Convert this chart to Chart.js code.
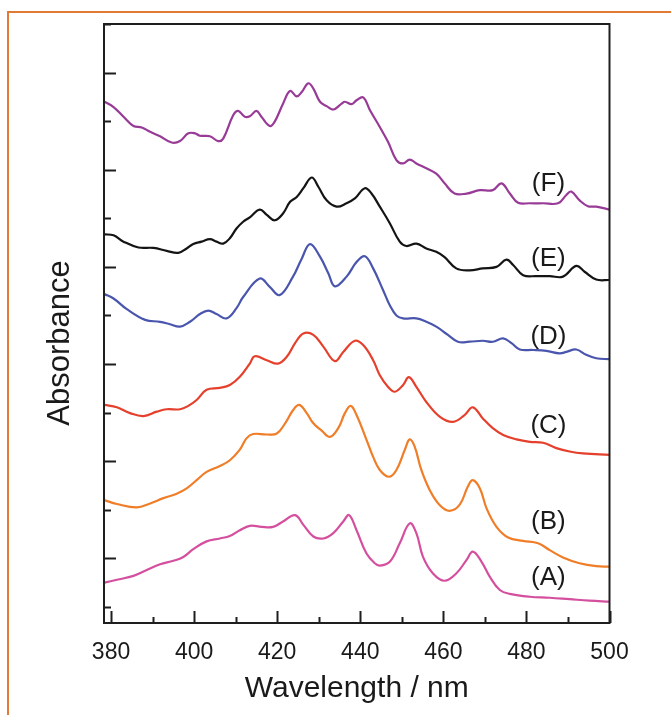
<!DOCTYPE html>
<html>
<head>
<meta charset="utf-8">
<script src="https://cdn.jsdelivr.net/npm/chart.js@4/dist/chart.umd.min.js"></script>
<style>
  html, body { margin: 0; padding: 0; background: #ffffff; }
  #wrap { position: relative; width: 671px; height: 715px; overflow: hidden; background: #ffffff; }
  #frame { position: absolute; left: 7px; top: 11px; width: 700px; height: 760px;
           border-top: 2px solid #e07a36; border-left: 2px solid #e07a36; }
  #c { position: absolute; left: 0; top: 0; }
</style>
</head>
<body>
<div id="wrap">
  <div id="frame"></div>
  <canvas id="c" width="671" height="715"></canvas>
</div>
<script>
// Spectra (wavelength in nm, absorbance in offset arbitrary units)
const waveA = [378.4,381.4,385.4,388.6,391.8,395.0,397.4,399.8,403.0,406.2,408.6,411.0,413.4,416.2,419.0,421.4,424.3,426.3,428.7,431.1,433.5,435.9,437.3,439.1,441.5,443.5,444.7,447.1,449.5,451.9,453.5,455.1,457.5,460.3,463.1,465.6,467.1,469.2,471.2,473.6,476.0,480.8,485.6,490.4,495.2,500.0];
const absA  = [0.50,0.56,0.64,0.76,0.88,0.95,1.03,1.19,1.35,1.41,1.46,1.58,1.67,1.65,1.65,1.76,1.89,1.69,1.45,1.41,1.52,1.76,1.89,1.58,1.10,0.90,0.85,0.93,1.31,1.72,1.52,1.03,0.69,0.54,0.69,0.97,1.14,0.93,0.62,0.35,0.27,0.21,0.19,0.16,0.13,0.11];

const waveB = [378.4,381.4,386.2,389.4,392.6,395.8,398.2,400.6,403.0,406.2,408.6,411.0,412.6,414.2,417.5,419.9,421.9,423.8,425.3,427.1,428.7,430.7,432.7,434.7,436.3,437.7,439.1,441.5,443.1,444.7,446.9,448.7,450.7,451.9,453.1,454.7,456.7,459.1,461.5,463.9,465.9,467.1,468.8,470.4,472.8,475.6,479.2,482.8,485.6,488.8,492.8,496.8,500.0];
const absB  = [2.20,2.12,2.05,2.13,2.24,2.33,2.44,2.61,2.78,2.90,3.02,3.24,3.47,3.56,3.55,3.57,3.78,4.05,4.16,3.99,3.78,3.63,3.50,3.68,3.99,4.14,3.95,3.44,3.09,2.82,2.68,2.82,3.23,3.45,3.30,2.82,2.41,2.10,1.98,2.10,2.48,2.61,2.44,2.03,1.65,1.43,1.36,1.31,1.17,1.02,0.90,0.84,0.83];

const waveC = [378.4,381.4,384.6,387.8,391.0,393.4,396.6,398.6,400.6,403.0,406.2,408.6,411.0,413.4,414.6,417.5,420.2,422.3,424.3,426.3,428.7,431.1,433.9,435.9,438.7,440.7,443.1,444.7,446.7,448.3,450.3,451.7,453.5,455.9,459.1,462.3,465.1,467.1,469.5,471.9,474.4,477.6,480.8,484.0,487.2,490.4,493.6,500.0];
const absC  = [4.16,4.11,3.99,3.93,4.02,4.07,4.07,4.14,4.26,4.47,4.51,4.57,4.74,5.01,5.16,5.08,5.01,5.15,5.43,5.63,5.60,5.36,5.06,5.25,5.48,5.39,5.08,4.77,4.53,4.43,4.57,4.73,4.53,4.22,3.92,3.81,3.95,4.11,3.88,3.68,3.54,3.45,3.40,3.38,3.27,3.20,3.16,3.13];

const waveD = [378.4,380.6,383.8,388.2,391.8,394.2,396.6,399.0,401.4,403.4,405.4,407.8,410.2,411.8,415.8,418.2,420.6,423.8,425.9,427.9,430.3,432.3,433.9,436.7,439.1,441.1,443.1,445.5,447.1,448.7,450.3,453.5,455.9,458.3,461.1,463.5,466.3,469.5,471.9,474.4,476.4,478.4,481.6,484.8,488.0,489.6,492.0,494.4,496.8,500.0];
const absD  = [6.44,6.35,6.13,5.91,5.87,5.82,5.77,5.87,6.03,6.10,6.03,5.94,6.15,6.38,6.76,6.59,6.42,6.80,7.17,7.47,7.21,6.87,6.60,6.80,7.10,7.22,6.97,6.52,6.21,6.00,5.94,5.94,5.87,5.77,5.60,5.46,5.46,5.48,5.46,5.53,5.43,5.30,5.29,5.27,5.22,5.25,5.30,5.19,5.12,5.10];

const waveE = [378.4,380.6,383.0,386.6,390.2,393.4,396.2,398.2,399.8,401.8,403.8,405.4,407.0,408.6,410.2,411.8,413.4,415.8,417.5,419.4,421.4,423.1,424.7,426.3,428.3,429.9,431.9,434.3,436.7,438.7,441.1,442.7,444.7,447.1,449.5,451.1,453.5,455.9,458.3,460.3,463.1,466.3,469.5,472.8,475.2,476.8,479.2,482.4,485.6,488.8,492.0,494.0,496.8,500.0];
const absE  = [7.67,7.65,7.52,7.40,7.39,7.33,7.29,7.38,7.47,7.52,7.57,7.52,7.48,7.59,7.79,7.93,8.02,8.18,8.07,7.96,8.10,8.34,8.44,8.62,8.84,8.65,8.37,8.24,8.31,8.41,8.62,8.51,8.24,7.90,7.52,7.43,7.48,7.38,7.31,7.20,6.97,6.93,6.97,7.00,7.15,7.04,6.83,6.81,6.81,6.80,7.02,6.90,6.74,6.73];

const waveF = [378.4,380.6,383.0,385.4,387.4,389.4,391.8,394.6,396.6,398.6,400.2,401.4,403.8,405.8,407.0,409.4,410.6,412.2,413.4,415.0,416.2,418.2,419.4,421.4,423.1,424.7,425.9,427.5,428.7,430.3,431.9,433.5,435.5,436.3,437.9,439.1,440.7,442.3,444.7,446.7,448.7,450.3,451.9,453.5,455.9,458.3,460.3,462.7,465.6,468.8,471.9,474.0,476.0,478.0,480.8,484.0,487.6,489.6,490.8,492.8,494.8,496.8,500.0];
const absF  = [10.40,10.29,10.09,9.90,9.87,9.78,9.69,9.56,9.59,9.75,9.75,9.70,9.69,9.59,9.64,10.12,10.21,10.09,10.10,10.21,10.09,9.90,9.99,10.36,10.62,10.51,10.60,10.78,10.67,10.40,10.31,10.24,10.36,10.40,10.35,10.43,10.49,10.23,9.88,9.57,9.20,9.13,9.21,9.13,9.03,8.92,8.72,8.51,8.51,8.58,8.58,8.72,8.51,8.32,8.31,8.31,8.31,8.48,8.55,8.37,8.25,8.24,8.18];

// Axis ticks
const xTicks = [380,390,400,410,420,430,440,450,460,470,480,490,500];
const xLabelled = [380,400,420,440,460,480,500];
const yTicks = [0,1,2,3,4,5,6,7,8,9,10,11,12];

// Curve tags drawn beside each spectrum
const tagText = ['(A)','(B)','(C)','(D)','(E)','(F)'];
const tagWave = [485.3,485.3,485.3,485.3,485.3,485.3];
const tagAbs  = [0.60,1.75,3.72,5.56,7.16,8.70];

const FONT = "'Liberation Sans', Arial, Helvetica, sans-serif";

function pairs(xs, ys) { return xs.map((x, i) => ({ x: x, y: ys[i] })); }

const series = [
  { w: waveA, a: absA, color: '#d44f9e' },
  { w: waveB, a: absB, color: '#f07d28' },
  { w: waveC, a: absC, color: '#e5402c' },
  { w: waveD, a: absD, color: '#4a56ad' },
  { w: waveE, a: absE, color: '#141414' },
  { w: waveF, a: absF, color: '#983b97' }
];

// Closed frame plus inward tick marks on the bottom and left axes
const framePlugin = {
  id: 'frameTicks',
  afterDatasetsDraw(chart) {
    const { ctx, chartArea: ca, scales } = chart;
    const xs = scales.x, ys = scales.y;
    ctx.save();
    ctx.strokeStyle = '#1e1e1e';
    ctx.lineWidth = 2;
    ctx.beginPath();
    xTicks.forEach(v => {
      const px = Math.round(xs.getPixelForValue(v)) + 0.5;
      const len = xLabelled.includes(v) ? 12 : 6;
      ctx.moveTo(px, ca.bottom);
      ctx.lineTo(px, ca.bottom - len);
    });
    yTicks.forEach(v => {
      const py = Math.round(ys.getPixelForValue(v)) + 0.5;
      const len = (v % 2 === 1) ? 12 : 7;
      ctx.moveTo(ca.left, py);
      ctx.lineTo(ca.left + len, py);
    });
    ctx.stroke();
    ctx.strokeRect(ca.left, ca.top, ca.right - ca.left, ca.bottom - ca.top);
    ctx.restore();
  }
};

// Curve tags and the vertical axis title
const textPlugin = {
  id: 'curveTags',
  afterDatasetsDraw(chart) {
    const { ctx, scales } = chart;
    ctx.save();
    ctx.fillStyle = '#1a1a1a';
    ctx.font = '26px ' + FONT;
    ctx.textAlign = 'center';
    ctx.textBaseline = 'middle';
    tagText.forEach((t, i) => {
      ctx.fillText(t, scales.x.getPixelForValue(tagWave[i]), scales.y.getPixelForValue(tagAbs[i]));
    });
    ctx.translate(60, 343);
    ctx.rotate(-Math.PI / 2);
    ctx.font = '31px ' + FONT;
    ctx.fillText('Absorbance', 0, 0);
    ctx.restore();
  }
};

new Chart(document.getElementById('c'), {
  type: 'line',
  data: {
    datasets: series.map(s => ({
      data: pairs(s.w, s.a),
      borderColor: s.color,
      borderWidth: 2.2,
      pointRadius: 0,
      fill: false,
      tension: 0.4
    }))
  },
  options: {
    responsive: false,
    animation: false,
    devicePixelRatio: 1,
    layout: { padding: { top: 24, right: 61.5, bottom: 0, left: 0 } },
    plugins: { legend: { display: false }, tooltip: { enabled: false } },
    scales: {
      x: {
        type: 'linear',
        min: 378.3,
        max: 500,
        afterBuildTicks: s => { s.ticks = xTicks.map(v => ({ value: v })); },
        afterFit: s => { s.height = 92; },
        grid: { display: false, drawTicks: false },
        border: { display: false },
        ticks: {
          autoSkip: false,
          maxRotation: 0,
          padding: 16,
          color: '#1a1a1a',
          font: { family: FONT, size: 23 },
          callback: v => (xLabelled.includes(v) ? String(v) : '')
        },
        title: {
          display: true,
          text: 'Wavelength / nm',
          color: '#1a1a1a',
          font: { family: FONT, size: 30 },
          padding: { top: 0, bottom: 8 }
        }
      },
      y: {
        type: 'linear',
        min: -0.33,
        max: 12,
        afterBuildTicks: s => { s.ticks = yTicks.map(v => ({ value: v })); },
        afterFit: s => { s.width = 104; },
        grid: { display: false, drawTicks: false },
        border: { display: false },
        ticks: { display: false },
        title: { display: false }
      }
    }
  },
  plugins: [framePlugin, textPlugin]
});
</script>
</body>
</html>
